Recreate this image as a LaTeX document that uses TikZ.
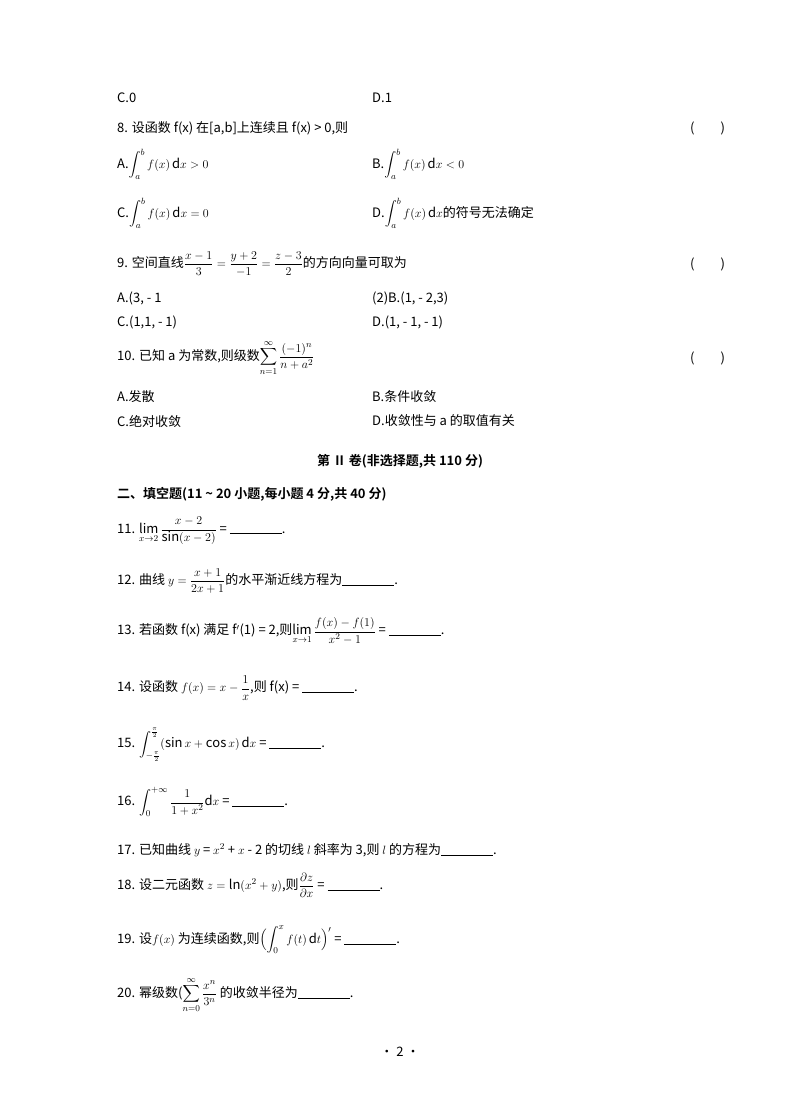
\documentclass[tikz,border=0pt]{standalone}
\usepackage{amsmath}
\usepackage{fontspec}
\setmainfont{Noto Sans CJK SC}
\newfontfamily\cjkb{Noto Sans CJK SC Bold}
\newcommand{\blankln}{\rule[-1pt]{52pt}{0.6pt}}
\begin{document}
\begin{tikzpicture}[x=1pt,y=-1pt,
  t/.style={anchor=west,inner sep=0pt,font=\fontsize{13}{15}\selectfont},
  par/.style={anchor=west,inner sep=0pt,font=\fontsize{13}{15}\selectfont}]
\useasboundingbox[fill=white] (0,0) rectangle (800,1114);
\node[t] (c0) at (117,98) {C.0};
\node[t] (d1) at (372,98) {D.1};
\node[t] (q8) at (117,128) {8. 设函数 f(x) 在[a,b]上连续且 f(x) \textgreater\ 0,则};
\node[par] (p8) at (690,128) {(\hspace{26pt})};
\node[t] (a8) at (117,164) {A.$\displaystyle\int_a^b f(x)\,\mathrm{d}x>0$};
\node[t] (b8) at (372,164) {B.$\displaystyle\int_a^b f(x)\,\mathrm{d}x<0$};
\node[t] (c8) at (117,213) {C.$\displaystyle\int_a^b f(x)\,\mathrm{d}x=0$};
\node[t] (d8) at (372,213) {D.$\displaystyle\int_a^b f(x)\,\mathrm{d}x$的符号无法确定};
\node[t] (q9) at (117,264) {9. 空间直线$\dfrac{x-1}{3}=\dfrac{y+2}{-1}=\dfrac{z-3}{2}$的方向向量可取为};
\node[par] (p9) at (690,264) {(\hspace{26pt})};
\node[t] (a9) at (117,298) {A.(3, - 1};
\node[t] (b9) at (372,298) {(2)B.(1, - 2,3)};
\node[t] (c9) at (117,322) {C.(1,1, - 1)};
\node[t] (d9) at (372,322) {D.(1, - 1, - 1)};
\node[t] (q10) at (117,358) {10. 已知 a 为常数,则级数$\displaystyle\sum_{n=1}^{\infty}\frac{(-1)^n}{n+a^2}$};
\node[par] (p10) at (690,358) {(\hspace{26pt})};
\node[t] (a10) at (117,397) {A.发散};
\node[t] (b10) at (372,397) {B.条件收敛};
\node[t] (c10) at (117,421) {C.绝对收敛};
\node[t] (d10) at (372,421) {D.收敛性与 a 的取值有关};
\node[inner sep=0pt,font=\fontsize{13}{15}\selectfont\cjkb] (sec) at (400,461) {第 Ⅱ 卷(非选择题,共 110 分)};
\node[t,font=\fontsize{13}{15}\selectfont\cjkb] (h2) at (117,494) {二、填空题(11 \textasciitilde\ 20 小题,每小题 4 分,共 40 分)};
\node[t] (q11) at (117,531) {11. $\lim\limits_{x\to2}\dfrac{x-2}{\sin(x-2)}$ = \blankln.};
\node[t] (q12) at (117,581) {12. 曲线 $y=\dfrac{x+1}{2x+1}$的水平渐近线方程为\blankln.};
\node[t] (q13) at (117,631) {13. 若函数 f(x) 满足 f$'$(1) = 2,则$\lim\limits_{x\to1}\dfrac{f(x)-f(1)}{x^2-1}$ = \blankln.};
\node[t] (q14) at (117,688) {14. 设函数 $f(x)=x-\dfrac{1}{x}$,则 f(x) = \blankln.};
\node[t] (q15) at (117,745) {15. $\displaystyle\int_{-\frac{\pi}{2}}^{\frac{\pi}{2}}(\sin x+\cos x)\,\mathrm{d}x$ = \blankln.};
\node[t] (q16) at (117,802) {16. $\displaystyle\int_0^{+\infty}\frac{1}{1+x^2}\mathrm{d}x$ = \blankln.};
\node[t] (q17) at (117,850) {17. 已知曲线 $y$ = $x^2$ + $x$ - 2 的切线 $l$ 斜率为 3,则 $l$ 的方程为\blankln.};
\node[t] (q18) at (117,885) {18. 设二元函数 $z=\ln(x^2+y)$,则$\dfrac{\partial z}{\partial x}$ = \blankln.};
\node[t] (q19) at (117,940) {19. 设$f(x)$ 为连续函数,则$\Bigl(\displaystyle\int_0^x f(t)\,\mathrm{d}t\Bigr)'$ = \blankln.};
\node[t] (q20) at (117,995) {20. 幂级数($\displaystyle\sum_{n=0}^{\infty}\frac{x^n}{3^n}$ 的收敛半径为\blankln.};
\node[inner sep=0pt,font=\fontsize{13}{15}\selectfont] (pg) at (400,1052) {· 2 ·};
\end{tikzpicture}
\end{document}
